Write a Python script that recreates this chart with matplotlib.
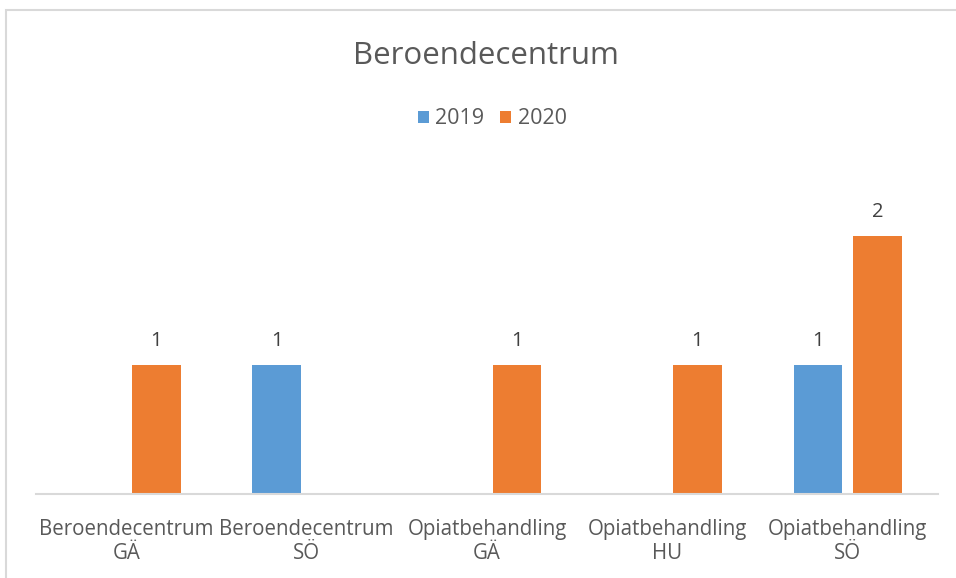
import numpy as np
import matplotlib
matplotlib.use("Agg")
import matplotlib.pyplot as plt
from matplotlib.patches import Rectangle

plt.rcParams['font.family'] = ['Open Sans', 'DejaVu Sans']

# data
categories = ["Beroendecentrum\nGÄ", "Beroendecentrum\nSÖ", "Opiatbehandling\nGÄ",
              "Opiatbehandling\nHU", "Opiatbehandling\nSÖ"]
series_names = ["2019", "2020"]
values_2019 = [0, 1, 0, 0, 1]
values_2020 = [1, 0, 1, 1, 2]
colors = ["#5B9BD5", "#ED7D31"]

fig = plt.figure(figsize=(9.56, 5.78), dpi=100)
ax = fig.add_axes([0.0377, 0.1448, 0.9435, 0.5592])

# chart border like Excel
fig.patches.append(Rectangle((6 / 956, -0.05), 1.2, 1 - 10 / 578 + 0.05,
                             transform=fig.transFigure, fill=False,
                             edgecolor="#d9d9d9", linewidth=1.5))

x = np.arange(len(categories))
w = 0.27
off = 0.166
for vals, name, col, sgn in [(values_2019, series_names[0], colors[0], -1),
                             (values_2020, series_names[1], colors[1], 1)]:
    bars = ax.bar(x + sgn * off, vals, width=w, color=col, label=name)
    for b, v in zip(bars, vals):
        if v:
            ax.text(b.get_x() + b.get_width() / 2, v + 0.11, str(v),
                    ha="center", va="bottom", fontsize=14.5, color="#404040")

ax.set_xlim(-0.5, len(categories) - 0.5)
ax.set_ylim(0, 2.5)
ax.set_yticks([])
ax.set_xticks(x)
ax.set_xticklabels(categories, fontsize=14.8, color="#595959", linespacing=1.2)
ax.tick_params(axis="x", length=0, pad=17.5)
for s in ["top", "right", "left"]:
    ax.spines[s].set_visible(False)
ax.spines["bottom"].set_color("#d9d9d9")
ax.spines["bottom"].set_linewidth(1.5)

fig.text(0.508, 1 - 56 / 578, "Beroendecentrum", ha="center", va="center",
         fontsize=22.5, color="#595959")
fig.legend(loc="center", bbox_to_anchor=(0.515, 1 - 119 / 578), ncol=2, frameon=False,
           fontsize=15.5, handlelength=0.5, handleheight=0.5, columnspacing=0.75,
           handletextpad=0.3, labelcolor="#595959")

fig.savefig("out.png", dpi=100)
